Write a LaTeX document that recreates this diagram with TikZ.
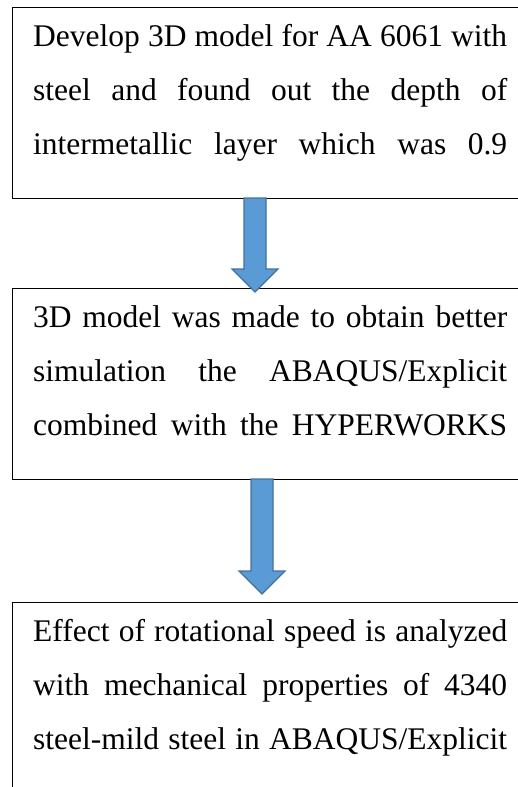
\documentclass[tikz,border=0pt]{standalone}
\usepackage{fontspec}
\setmainfont{LiberationSerif}[Extension=.ttf, UprightFont=*-Regular, BoldFont=*-Bold, ItalicFont=*-Italic, BoldItalicFont=*-BoldItalic]
\usetikzlibrary{calc}
\definecolor{arrowblue}{RGB}{91,155,213}
\definecolor{arrowedge}{RGB}{65,113,156}
\hyphenpenalty=10000
\exhyphenpenalty=10000
\tolerance=10000
\hbadness=10000

\begin{document}
\begin{tikzpicture}[x=1bp, y=-1bp,
    stepbox/.style={draw=black, line width=1.1bp, minimum width=520bp, minimum height=191bp, inner sep=0pt, anchor=north west},
    steptext/.style={text width=474bp, align=justify, inner sep=0pt, anchor=north west, font=\fontsize{31.5bp}{54bp}\selectfont},
    flowarrow/.style={fill=arrowblue, draw=arrowedge, line width=1.3bp}]
    \useasboundingbox (0,0) rectangle (518,787);
    \clip (0,0) rectangle (518,787);
    \node[stepbox] (box1) at (12,7) {};
    \node[stepbox] (box2) at (12,288) {};
    \node[stepbox] (box3) at (12,602) {};
    \node[steptext] (txt1) at ([shift={(21,1.2)}]box1.north west) {\strut Develop 3D model for AA 6061 with\linebreak steel and found out the depth of\linebreak intermetallic layer which was 0.9\linebreak};
    \node[steptext] (txt2) at ([shift={(21,1.2)}]box2.north west) {\strut 3D model was made to obtain better\linebreak simulation the ABAQUS/Explicit\linebreak combined with the HYPERWORKS\linebreak};
    \node[steptext] (txt3) at ([shift={(21,1.2)}]box3.north west) {\strut Effect of rotational speed is analyzed\linebreak with mechanical properties of 4340\linebreak steel-mild steel in ABAQUS/Explicit\linebreak};
    \coordinate (a1top) at (255,198);
    \coordinate (a1tip) at (255,292);
    \coordinate (a2top) at (262,479);
    \coordinate (a2tip) at (262,594);
    \draw[flowarrow] ($(a1top)+(-11,0)$) -- ($(a1tip)+(-11,-23)$) -- ($(a1tip)+(-23,-23)$) -- (a1tip) -- ($(a1tip)+(23,-23)$) -- ($(a1tip)+(11,-23)$) -- ($(a1top)+(11,0)$) -- cycle;
    \draw[flowarrow] ($(a2top)+(-11,0)$) -- ($(a2tip)+(-11,-23)$) -- ($(a2tip)+(-23,-23)$) -- (a2tip) -- ($(a2tip)+(23,-23)$) -- ($(a2tip)+(11,-23)$) -- ($(a2top)+(11,0)$) -- cycle;
\end{tikzpicture}
\end{document}
